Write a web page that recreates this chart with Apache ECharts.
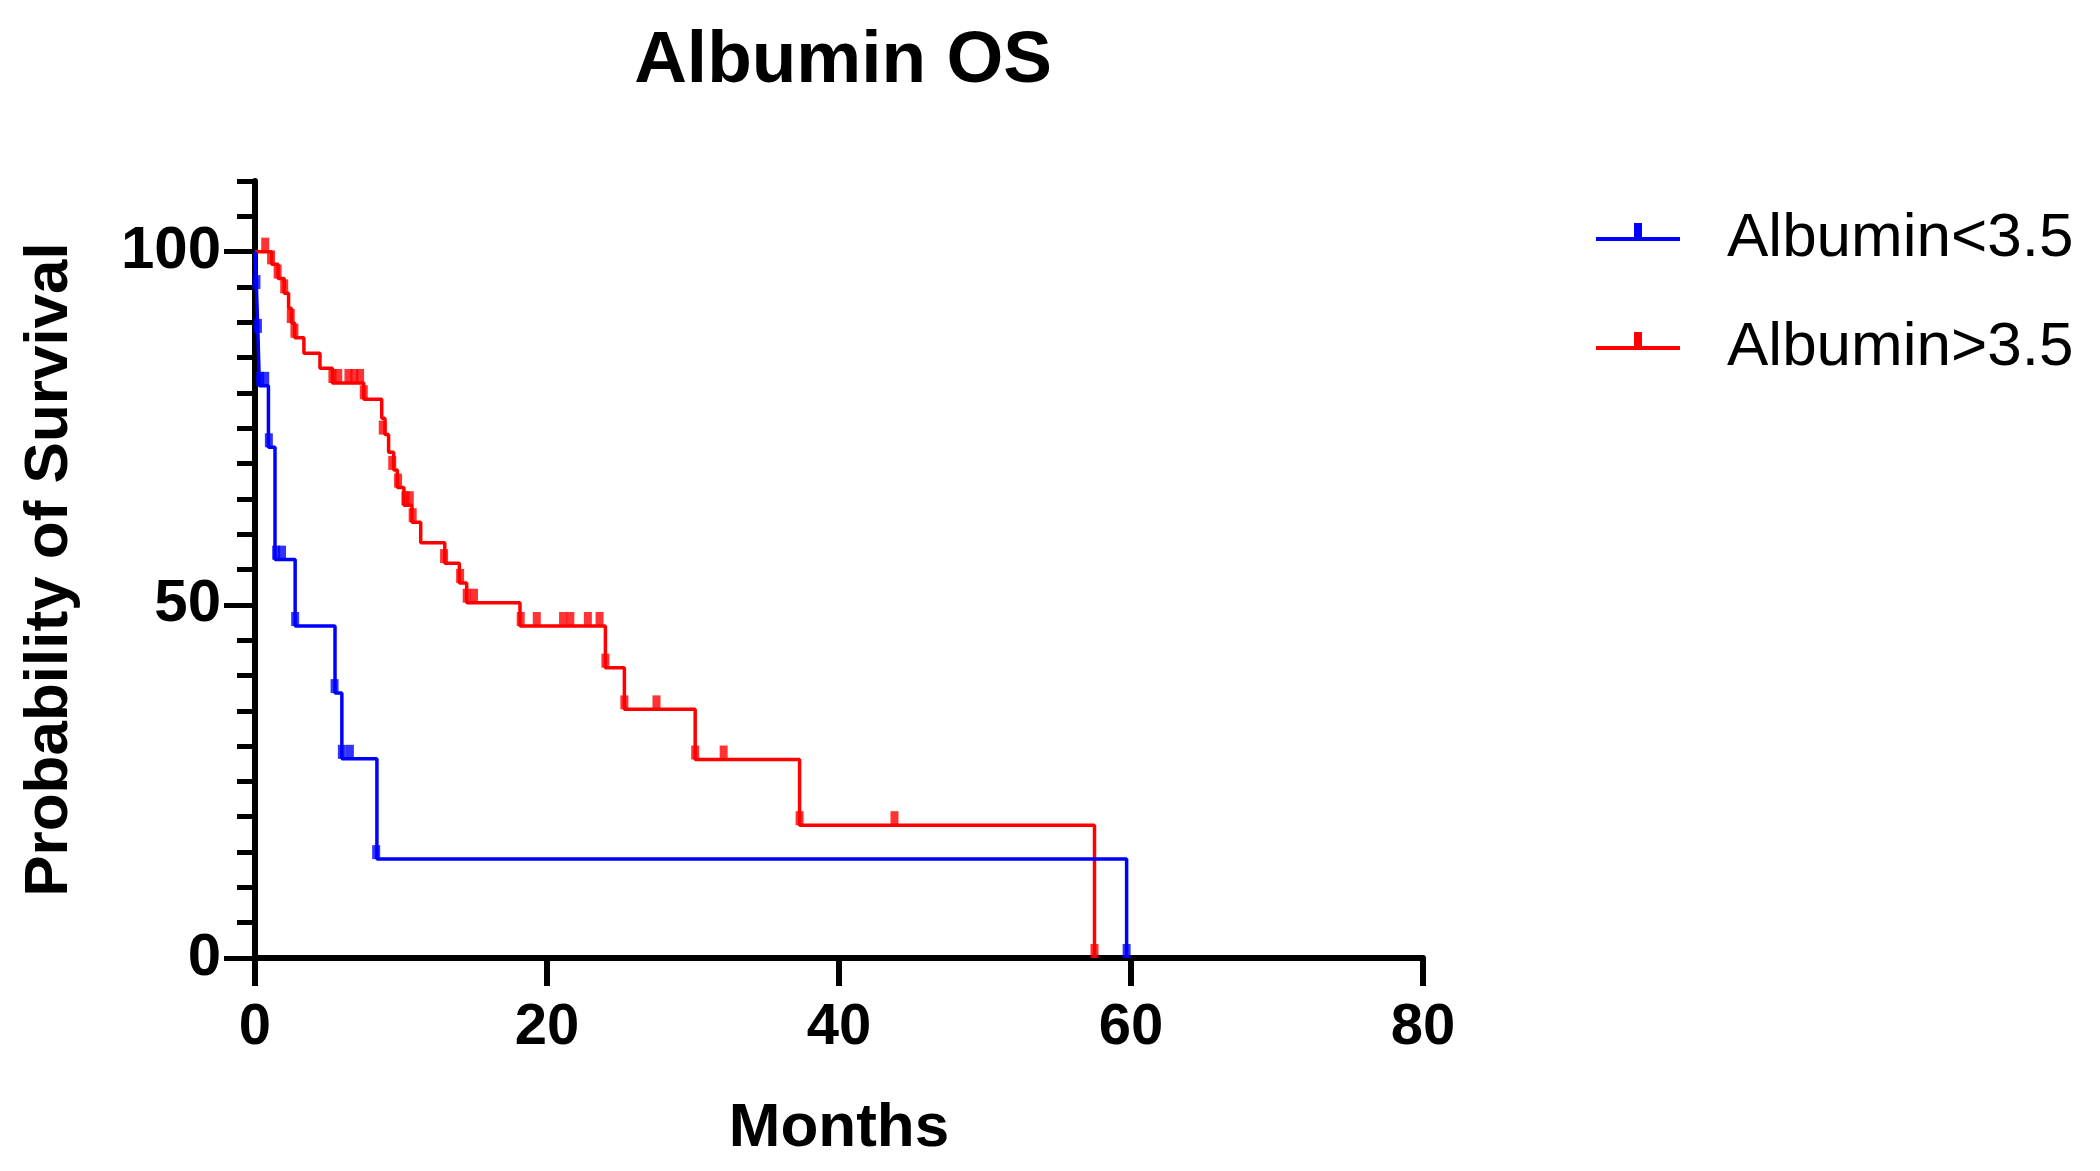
<!DOCTYPE html>
<html>
<head>
<meta charset="utf-8">
<script src="https://cdn.jsdelivr.net/npm/echarts@6/dist/echarts.min.js"></script>
<style>
html,body{margin:0;padding:0;background:#fff;}
#chart{width:2100px;height:1171px;}
</style>
</head>
<body>
<div id="chart"></div>
<script>
// ---- data ----
const titleText = 'Albumin OS';
const xAxisName = 'Months';
const yAxisName = 'Probability of Survival';
const seriesNames = ['Albumin<3.5', 'Albumin>3.5'];
const xTicks = [0, 20, 40, 60, 80];
const yLabelValues = [0, 50, 100];

// Kaplan-Meier steps [months, survival %] for Albumin<3.5
const lowSteps = [
  [0, 100], [0.1, 94.7], [0.2, 88.5], [0.3, 81.0], [0.92, 72.3], [1.37, 56.4],
  [2.75, 47.0], [5.48, 37.5], [5.95, 28.2], [8.35, 14.0], [59.7, 0]
];
// censor marks for Albumin<3.5
const lowCensor = [
  [0.1, 94.7], [0.2, 88.5], [0.35, 81.0], [0.7, 81.0], [0.95, 72.3], [1.45, 56.4],
  [1.85, 56.4], [2.75, 47.0], [5.45, 37.5], [5.95, 28.2], [6.5, 28.2], [8.3, 14.0], [59.7, 0]
];

// Kaplan-Meier steps for Albumin>3.5
const highSteps = [
  [0, 100], [1.14, 98.2], [1.58, 96.2], [2.0, 94.1], [2.3, 92.0], [2.5, 89.9],
  [2.72, 87.8], [3.35, 85.6], [4.45, 83.5], [5.3, 81.4], [7.45, 79.1], [8.68, 76.4],
  [8.9, 74.1], [9.15, 71.6], [9.5, 69.1], [9.75, 66.6], [10.2, 64.1], [10.75, 61.7],
  [11.35, 58.8], [13.0, 55.9], [14.0, 53.1], [14.5, 50.3], [18.15, 47.0], [24.0, 41.1],
  [25.3, 35.2], [30.15, 28.1], [37.3, 18.8], [57.5, 0]
];
// censor marks for Albumin>3.5
const highCensor = [
  [0.7, 100], [1.1, 98.2], [1.55, 96.2], [2.0, 94.1], [2.45, 89.9], [2.7, 87.8],
  [5.3, 81.4], [5.7, 81.4], [6.4, 81.4], [6.8, 81.4], [7.2, 81.4], [7.45, 79.1],
  [8.75, 74.1], [9.4, 69.1], [9.8, 66.6], [10.3, 64.1], [10.6, 64.1], [10.8, 61.7],
  [12.95, 55.9], [14.05, 53.1], [14.5, 50.3], [15.0, 50.3], [18.2, 47.0], [19.3, 47.0],
  [21.1, 47.0], [21.6, 47.0], [22.8, 47.0], [23.6, 47.0], [24.0, 41.1], [25.3, 35.2],
  [27.5, 35.2], [30.15, 28.1], [32.1, 28.1], [37.3, 18.8], [43.8, 18.8], [57.5, 0]
];

const colors = ['#0000ff', '#ff0000'];
const FONT = '"Liberation Sans", Arial, Helvetica, sans-serif';

const chart = echarts.init(document.getElementById('chart'), null, {renderer: 'canvas'});

const legendIcon = 'path://M0,14L84,14L84,18L0,18Z M38,0L46,0L46,14L38,14Z M42,32L42.01,32Z';
function makeLegend(name, top) {
  return {
    data: [name], left: 1596, top: top, orient: 'vertical', padding: 0,
    icon: legendIcon, itemWidth: 84, itemHeight: 32, selectedMode: false,
    textStyle: {fontFamily: FONT, fontSize: 62, color: '#000', lineHeight: 70, padding: [0, 0, 0, 42]}
  };
}

function censorSeries(name, data, color) {
  return {
    name: name, type: 'scatter', data: data, symbol: 'rect', symbolSize: [8, 14],
    symbolOffset: [0, -7], itemStyle: {color: color}, silent: true, z: 3
  };
}

const option = {
  backgroundColor: '#fff',
  animation: false,
  title: {
    text: titleText, left: 838, top: 20, textAlign: 'center',
    textStyle: {fontFamily: FONT, fontSize: 73, fontWeight: 'bold', color: '#000'}
  },
  legend: [makeLegend(seriesNames[0], 204), makeLegend(seriesNames[1], 313)],
  grid: {left: 255, right: 677, top: 181, bottom: 213, containLabel: false},
  xAxis: {
    type: 'value', min: xTicks[0], max: xTicks[xTicks.length - 1], interval: 20,
    axisLine: {onZero: false, lineStyle: {color: '#000', width: 6}},
    axisTick: {length: 28, lineStyle: {color: '#000', width: 6}},
    axisLabel: {fontFamily: FONT, fontSize: 58, fontWeight: 'bold', color: '#000', margin: 41},
    splitLine: {show: false},
    name: xAxisName, nameLocation: 'middle', nameGap: 140,
    nameTextStyle: {fontFamily: FONT, fontSize: 62, fontWeight: 'bold', color: '#000'}
  },
  yAxis: [
    {
      type: 'value', min: 0, max: 110, interval: 5, position: 'left',
      axisLine: {show: true, onZero: false, lineStyle: {color: '#000', width: 6}},
      axisTick: {show: true, length: 18, lineStyle: {color: '#000', width: 5}},
      axisLabel: {show: false},
      splitLine: {show: false}
    },
    {
      type: 'value', min: 0, max: 110, interval: 5, position: 'left',
      axisLine: {show: false},
      axisTick: {show: true, length: 31, customValues: yLabelValues, lineStyle: {color: '#000', width: 5}},
      axisLabel: {show: true, customValues: yLabelValues, margin: 34, fontFamily: FONT, fontSize: 60, fontWeight: 'bold', color: '#000'},
      splitLine: {show: false},
      name: yAxisName, nameLocation: 'middle', nameGap: 174,
      nameTextStyle: {fontFamily: FONT, fontSize: 62, fontWeight: 'bold', color: '#000'}
    }
  ],
  series: [
    {
      name: seriesNames[1], type: 'line', step: 'end', data: highSteps, symbol: 'none',
      lineStyle: {color: colors[1], width: 3.5}, itemStyle: {color: colors[1]}, z: 2
    },
    censorSeries('censorHigh', highCensor, colors[1]),
    {
      name: seriesNames[0], type: 'line', step: 'end', data: lowSteps, symbol: 'none',
      lineStyle: {color: colors[0], width: 3.5}, itemStyle: {color: colors[0]}, z: 2
    },
    censorSeries('censorLow', lowCensor, colors[0])
  ]
};
chart.setOption(option);
</script>
</body>
</html>
